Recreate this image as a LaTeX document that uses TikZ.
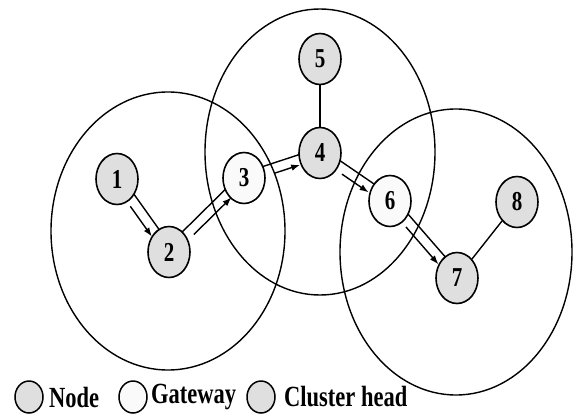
\documentclass[tikz,border=0pt]{standalone}
\usepackage{fontspec}
\setmainfont{Liberation Serif}
\usetikzlibrary{calc,arrows.meta,backgrounds,shapes.geometric}
\colorlet{nodegray}{gray!25}
\colorlet{gatewaywhite}{gray!4}
\newcommand\vstr[1]{\scalebox{1}[1.3]{#1}}
\tikzset{
  netnode/.style={ellipse, draw, line width=1.6pt, fill=nodegray, minimum width=42pt, minimum height=51pt, inner sep=0pt, font=\bfseries\fontsize{21}{21}\selectfont},
  gatenode/.style={netnode, fill=gatewaywhite},
  cluster/.style={draw, line width=1.4pt},
  plainlink/.style={draw, line width=1.4pt},
  pairline/.style={draw, line width=1.4pt},
  arrowline/.style={draw, line width=1.4pt, -{Latex[length=9pt,width=6.5pt]}, shorten <=30pt, shorten >=22.5pt},
  legendmark/.style={ellipse, draw, line width=1.5pt, minimum width=28pt, minimum height=32pt, inner sep=0pt},
  legendtext/.style={anchor=west, inner sep=0pt, font=\bfseries\fontsize{22.5}{22.5}\selectfont},
}
\newcommand\dlink[2]{%
  \draw[pairline] ($(#1)!5pt!90:(#2)$) -- ($(#2)!5pt!-90:(#1)$);
  \draw[arrowline] ($(#1)!5pt!-90:(#2)$) -- ($(#2)!5pt!90:(#1)$);
}
\begin{document}
\begin{tikzpicture}[x=1pt,y=-1pt]
\useasboundingbox (0,0) rectangle (575,415);
% nodes
\node[netnode]  (n1) at (117,179) {\vstr{1}};
\node[netnode]  (n2) at (169,252) {\vstr{2}};
\node[gatenode] (n3) at (244,178) {\vstr{3}};
\node[netnode]  (n4) at (320,153) {\vstr{4}};
\node[netnode]  (n5) at (320,59)  {\vstr{5}};
\node[gatenode] (n6) at (390,201) {\vstr{6}};
\node[netnode]  (n7) at (457,278) {\vstr{7}};
\node[netnode]  (n8) at (517,202) {\vstr{8}};
\begin{pgfonlayer}{background}
  \draw[cluster] (168,231) ellipse [x radius=117pt, y radius=139pt];
  \draw[cluster] (320,152) ellipse [x radius=115pt, y radius=143pt];
  \draw[cluster] (456,252) ellipse [x radius=116pt, y radius=143pt];
  \dlink{n1}{n2}
  \dlink{n2}{n3}
  \dlink{n3}{n4}
  \dlink{n4}{n6}
  \dlink{n6}{n7}
  \draw[plainlink] (n4) -- (n5);
  \draw[plainlink] (n7) -- (n8);
\end{pgfonlayer}
% legend
\node[legendmark, fill=nodegray]     (l1) at (29,397)  {};
\node[legendtext] (t1) at (49,397)  {\vstr{Node}};
\node[legendmark, fill=gatewaywhite] (l2) at (133,397) {};
\node[legendtext] (t2) at (151,397) {\vstr{Gateway}};
\node[legendmark, fill=nodegray]     (l3) at (261,397) {};
\node[legendtext] (t3) at (284,397) {\vstr{Cluster head}};
\end{tikzpicture}
\end{document}
